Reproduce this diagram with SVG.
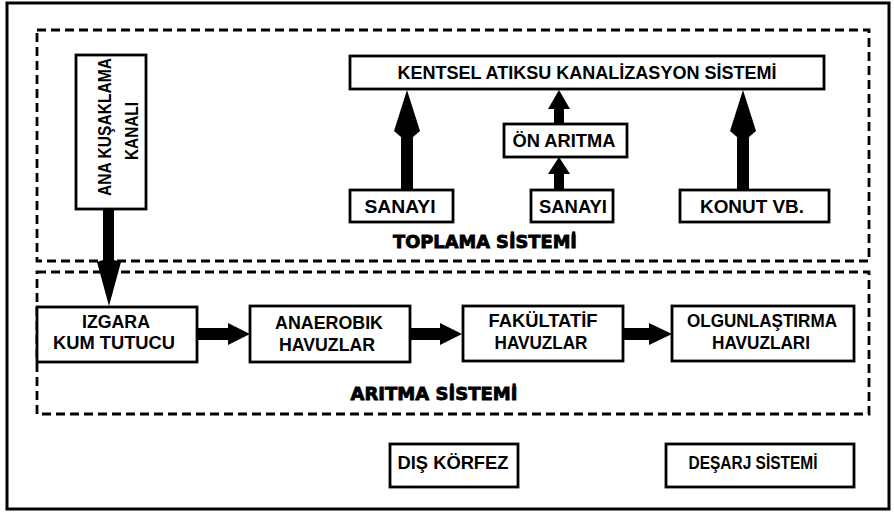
<svg xmlns="http://www.w3.org/2000/svg" width="894" height="514" viewBox="0 0 894 514">
<style>
.box{fill:#fff;stroke:#000;stroke-width:2.8}
.frame{fill:none;stroke:#000;stroke-width:3}
.dash{fill:none;stroke:#000;stroke-width:2.8;stroke-dasharray:9 5}
.lbl{font-family:"Liberation Sans",Arial,sans-serif;font-weight:bold;font-size:18px;fill:#000;text-anchor:middle}
.ttl{font-family:"DejaVu Sans","Liberation Sans",sans-serif;font-weight:bold;font-size:17px;fill:#000;stroke:#000;stroke-width:0.8;text-anchor:middle}
.arr{fill:#000;stroke:none}
</style>
<rect x="0" y="0" width="894" height="514" fill="#fff"/>
<rect class="frame" x="7" y="3" width="882" height="506"/>
<g id="toplama-sistemi">
<rect class="dash" x="37" y="30" width="832" height="231"/>
<text class="ttl" x="485" y="248" textLength="184" lengthAdjust="spacingAndGlyphs">TOPLAMA SİSTEMİ</text>
</g>
<g id="aritma-sistemi">
<rect class="dash" x="37" y="272" width="832" height="142"/>
<text class="ttl" x="434" y="400" textLength="167" lengthAdjust="spacingAndGlyphs">ARITMA SİSTEMİ</text>
</g>
<g id="connectors">
<polygon class="arr" points="103,209 114,209 114,260 121,262 109,306 97,262 103,260"/>
<polygon class="arr" points="407,90 420,131 413,137 413,190 401,190 401,137 394,131"/>
<polygon class="arr" points="743,90 756,131 749,137 749,190 737,190 737,137 730,131"/>
<polygon class="arr" points="559,90 570,109 564,109 564,124 554,124 554,109 548,109"/>
<polygon class="arr" points="559,157 570,174 564,174 564,190 554,190 554,174 548,174"/>
<polygon class="arr" points="197,328 228,328 228,323 250,334 228,345 228,340 197,340"/>
<polygon class="arr" points="410,328 440,328 440,323 462,334 440,345 440,340 410,340"/>
<polygon class="arr" points="623,328 649,328 649,323 672,334 649,345 649,340 623,340"/>
</g>
<g id="ana-kusaklama-kanali">
<rect class="box" x="76" y="55" width="70" height="154"/>
<text class="lbl" transform="translate(111,127) rotate(-90)" textLength="138" lengthAdjust="spacingAndGlyphs">ANA KUŞAKLAMA</text>
<text class="lbl" transform="translate(138,131) rotate(-90)" textLength="58" lengthAdjust="spacingAndGlyphs">KANALI</text>
</g>
<g id="kentsel">
<rect class="box" x="350" y="56" width="474" height="33"/>
<text class="lbl" x="587" y="79" textLength="379" lengthAdjust="spacingAndGlyphs">KENTSEL ATIKSU KANALİZASYON SİSTEMİ</text>
</g>
<g id="on-aritma">
<rect class="box" x="504" y="124" width="123" height="33"/>
<text class="lbl" x="564" y="147" textLength="103" lengthAdjust="spacingAndGlyphs">ÖN ARITMA</text>
</g>
<g id="sanayi-1">
<rect class="box" x="350" y="190" width="103" height="32"/>
<text class="lbl" x="400" y="213" textLength="71" lengthAdjust="spacingAndGlyphs">SANAYI</text>
</g>
<g id="sanayi-2">
<rect class="box" x="531" y="190" width="82" height="32"/>
<text class="lbl" x="573" y="213" textLength="68" lengthAdjust="spacingAndGlyphs">SANAYI</text>
</g>
<g id="konut">
<rect class="box" x="680" y="190" width="149" height="32"/>
<text class="lbl" x="752" y="213" textLength="104" lengthAdjust="spacingAndGlyphs">KONUT VB.</text>
</g>
<g id="izgara">
<rect class="box" x="37" y="307" width="160" height="55"/>
<text class="lbl" x="116" y="328" textLength="68" lengthAdjust="spacingAndGlyphs">IZGARA</text>
<text class="lbl" x="114" y="349" textLength="122" lengthAdjust="spacingAndGlyphs">KUM TUTUCU</text>
</g>
<g id="anaerobik">
<rect class="box" x="250" y="306" width="160" height="56"/>
<text class="lbl" x="329" y="329" textLength="108" lengthAdjust="spacingAndGlyphs">ANAEROBIK</text>
<text class="lbl" x="327" y="351" textLength="96" lengthAdjust="spacingAndGlyphs">HAVUZLAR</text>
</g>
<g id="fakultatif">
<rect class="box" x="463" y="306" width="160" height="55"/>
<text class="lbl" x="543" y="327" textLength="109" lengthAdjust="spacingAndGlyphs">FAKÜLTATİF</text>
<text class="lbl" x="541" y="349" textLength="93" lengthAdjust="spacingAndGlyphs">HAVUZLAR</text>
</g>
<g id="olgunlastirma">
<rect class="box" x="672" y="306" width="182" height="55"/>
<text class="lbl" x="762" y="327" textLength="150" lengthAdjust="spacingAndGlyphs">OLGUNLAŞTIRMA</text>
<text class="lbl" x="761" y="349" textLength="98" lengthAdjust="spacingAndGlyphs">HAVUZLARI</text>
</g>
<g id="dis-korfez">
<rect class="box" x="390" y="444" width="128" height="43"/>
<text class="lbl" x="453" y="469" textLength="111" lengthAdjust="spacingAndGlyphs">DIŞ KÖRFEZ</text>
</g>
<g id="desarj">
<rect class="box" x="666" y="444" width="188" height="43"/>
<text class="lbl" x="753" y="469" textLength="129" lengthAdjust="spacingAndGlyphs">DEŞARJ SİSTEMİ</text>
</g>
</svg>
